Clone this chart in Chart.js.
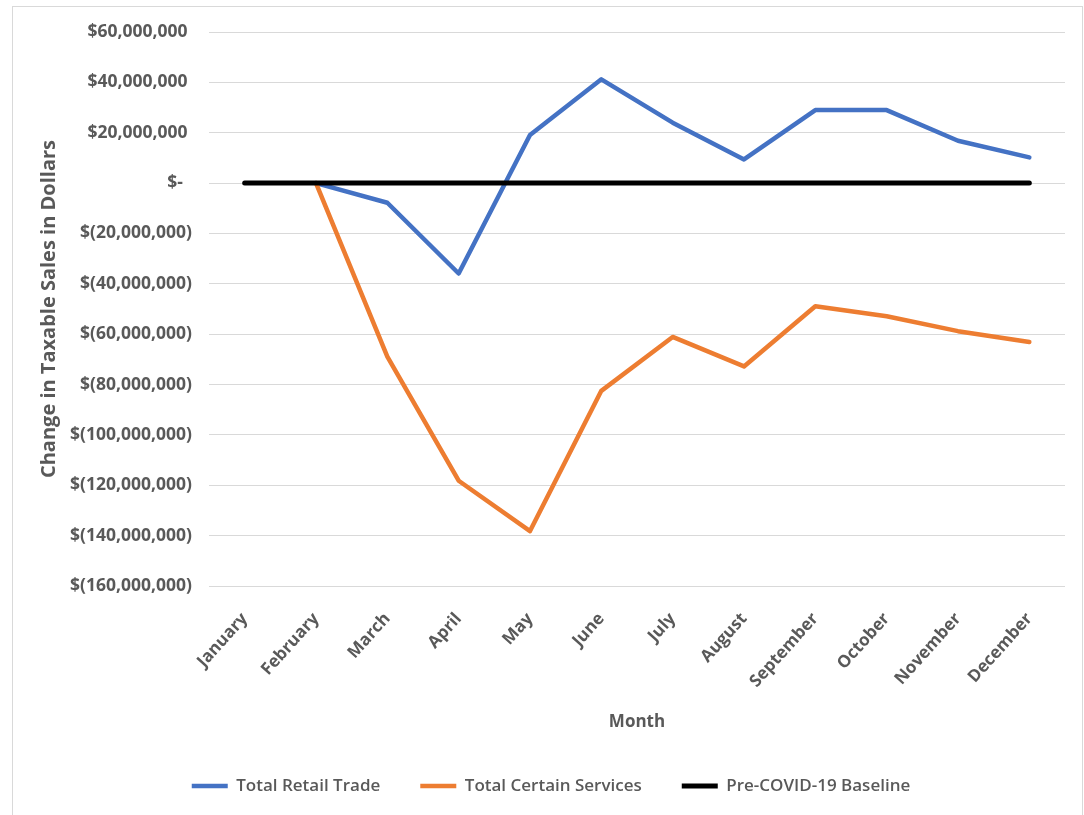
<!DOCTYPE html>
<html>
<head>
<meta charset="utf-8">
<script src="https://cdn.jsdelivr.net/npm/chart.js@4/dist/chart.umd.min.js"></script>
<style>
  html, body { margin: 0; padding: 0; background: #ffffff; }
  body { width: 1084px; height: 815px; overflow: hidden; position: relative; }
  #frame {
    position: absolute; left: 12px; top: 6px; width: 1071px; height: 830px;
    border: 1px solid #d9d9d9; box-sizing: border-box; background: #ffffff;
  }
  #chart { position: absolute; left: 0; top: 0; }
</style>
</head>
<body>
<div id="frame"><canvas id="chart" width="1069" height="808"></canvas></div>
<script>
// Months of the year on the category axis
const months = ['January', 'February', 'March', 'April', 'May', 'June',
  'July', 'August', 'September', 'October', 'November', 'December'];

// Change in taxable sales versus the pre-COVID-19 level, in dollars
const retailTrade = [null, 0, -7800000, -35900000, 19100000, 41200000,
  24000000, 9400000, 29000000, 29000000, 16800000, 10200000];
const certainServices = [null, 0, -68900000, -118200000, -138200000, -82500000,
  -61100000, -72800000, -48900000, -52900000, -58800000, -63100000];
const baseline = [0, 0, 0, 0, 0, 0, 0, 0, 0, 0, 0, 0];

// Value axis range
const yMin = -160000000;
const yMax = 60000000;
const yStep = 20000000;

const seriesNames = ['Total Retail Trade', 'Total Certain Services', 'Pre-COVID-19 Baseline'];

const grey = '#595959';
const fontFamily = '"Open Sans", "Noto Sans", sans-serif';

// Accounting-style dollar format: negatives in parentheses, zero as a dash
function money(v) {
  if (v === 0) return '$-  ';
  const s = Math.abs(v).toLocaleString('en-US');
  return v < 0 ? '$(' + s + ')' : '$' + s + ' ';
}

new Chart(document.getElementById('chart'), {
  type: 'line',
  data: {
    labels: months,
    datasets: [
      {
        label: seriesNames[0], data: retailTrade,
        borderColor: '#4472C4', backgroundColor: '#4472C4',
        borderWidth: 4.5, order: 2
      },
      {
        label: seriesNames[1], data: certainServices,
        borderColor: '#ED7D31', backgroundColor: '#ED7D31',
        borderWidth: 4.5, order: 1
      },
      {
        label: seriesNames[2], data: baseline,
        borderColor: '#000000', backgroundColor: '#000000',
        borderWidth: 5, order: 0
      }
    ]
  },
  options: {
    responsive: false,
    animation: false,
    spanGaps: false,
    elements: {
      point: { radius: 0, hoverRadius: 0 },
      line: { tension: 0, borderJoinStyle: 'round', borderCapStyle: 'round' }
    },
    layout: { padding: { left: 24, right: 17, top: 25, bottom: 10.5 } },
    plugins: {
      tooltip: { enabled: false },
      legend: {
        position: 'bottom',
        labels: {
          usePointStyle: true,
          pointStyle: 'line',
          pointStyleWidth: 36,
          boxHeight: 17,
          padding: 40,
          color: grey,
          font: { family: fontFamily, size: 17, weight: '600' },
          sort: (a, b) => a.datasetIndex - b.datasetIndex
        }
      }
    },
    scales: {
      x: {
        offset: true,
        grid: { display: false, drawTicks: false },
        border: { display: false },
        ticks: {
          minRotation: 48, maxRotation: 48, padding: 23,
          color: grey,
          font: { family: fontFamily, size: 17, weight: 'bold' }
        },
        title: {
          display: true, text: 'Month', color: grey,
          font: { family: fontFamily, size: 17, weight: 'bold' },
          padding: { top: 0, bottom: 5.3 }
        },
        afterFit: (scale) => { scale.height = 151.5; }
      },
      y: {
        min: yMin, max: yMax,
        grid: {
          color: '#d9d9d9', lineWidth: 1,
          drawTicks: true, tickLength: 17, tickColor: 'rgba(0,0,0,0)'
        },
        border: { display: false },
        ticks: {
          stepSize: yStep, padding: 0, color: grey,
          font: { family: fontFamily, size: 17.5, weight: 'bold' },
          callback: (v) => money(v)
        },
        title: {
          display: true, text: 'Change in Taxable Sales in Dollars', color: grey,
          font: { family: fontFamily, size: 20, weight: 'bold' },
          padding: { top: 0, bottom: 0 }
        },
        afterFit: (scale) => { scale.width = 172; }
      }
    }
  }
});
</script>
</body>
</html>
